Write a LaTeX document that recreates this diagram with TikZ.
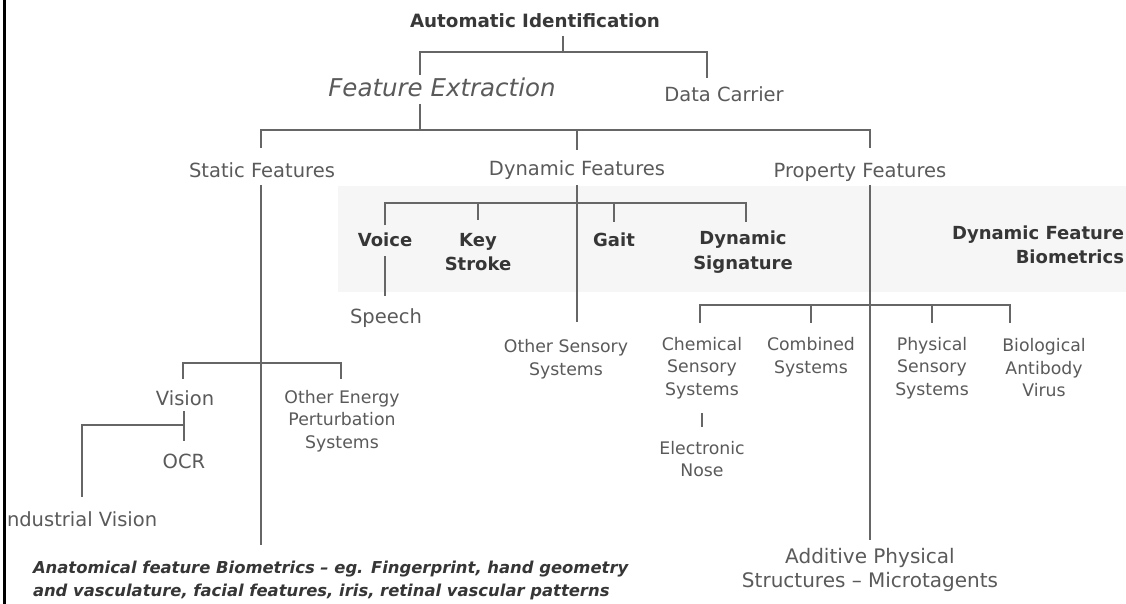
\documentclass[tikz,border=0pt]{standalone}
\usepackage{fontspec}
\setmainfont{DejaVu Sans}
\definecolor{txt}{HTML}{5A5A5A}
\definecolor{dark}{HTML}{363636}
\definecolor{ln}{HTML}{666666}
\definecolor{haze}{HTML}{F6F6F6}
\begin{document}
\begin{tikzpicture}[x=1pt,y=-1pt,
  every node/.style={inner sep=0pt, outer sep=0pt, align=center},
  ttl/.style={font=\bfseries\fontsize{18.3}{22}\selectfont, text=black!78},
  ital/.style={font=\itshape\fontsize{24.5}{28}\selectfont, text=txt},
  lbl/.style={font=\fontsize{19.5}{24}\selectfont, text=txt},
  sml/.style={font=\fontsize{17.3}{22.5}\selectfont, text=txt},
  bld/.style={font=\bfseries\fontsize{18}{24.5}\selectfont, text=dark},
  note/.style={font=\bfseries\itshape\fontsize{16.4}{23}\selectfont, text=dark, align=left},
  link/.style={draw=ln, line width=2pt}]
\useasboundingbox (0,0) rectangle (1126,604);
\fill[white] (0,0) rectangle (1126,604);
% faint tint behind the dynamic-feature band
\fill[haze] (338,186) rectangle (1126,292);
% left frame rule
\draw[line width=3pt, black] (4.5,0) -- (4.5,604);

% ---------- labels ----------
\node[ttl]  (auto)   at (535,21)  {Automatic Identification};
\node[ital] (fe)     at (442,87)  {Feature Extraction};
\node[lbl]  (dc)     at (724,94)  {Data Carrier};
\node[lbl]  (sf)     at (262,170) {Static Features};
\node[lbl]  (df)     at (577,170) {Dynamic Features};
\node[lbl]  (pf)     at (860,172) {Property Features};

\node[bld]  (voice)  at (385,240) {Voice};
\node[bld]  (key)    at (478,252) {Key\\Stroke};
\node[bld]  (gait)   at (614,240) {Gait};
\node[bld]  (dsig)   at (743,252) {Dynamic\\Signature};
\node[bld, anchor=east, align=right] (dfb) at (1124,245) {Dynamic Feature\\Biometrics};
\node[lbl]  (speech) at (386,318) {Speech};
\node[sml]  (oss)    at (566,359) {Other Sensory\\Systems};

\node[lbl]  (vis)    at (185,398) {Vision};
\node[sml]  (oe)     at (342,421) {Other Energy\\Perturbation\\Systems};
\node[lbl]  (ocr)    at (184,461) {OCR};
\node[lbl, anchor=west] (ind) at (7,519) {ndustrial Vision};

\node[sml]  (chem)   at (702,368) {Chemical\\Sensory\\Systems};
\node[sml]  (comb)   at (811,357) {Combined\\Systems};
\node[sml]  (phys)   at (932,368) {Physical\\Sensory\\Systems};
\node[sml]  (bio)    at (1044,368) {Biological\\Antibody\\Virus};
\node[sml]  (enose)  at (702,459) {Electronic\\Nose};
\node[font=\fontsize{20}{24}\selectfont, text=txt] (add) at (870,570) {Additive Physical\\Structures -- Microtagents};
\node[note, anchor=west] (anat) at (33,580) {Anatomical feature Biometrics -- eg. Fingerprint, hand geometry\\and vasculature, facial features, iris, retinal vascular patterns};

% ---------- junctions ----------
\coordinate (a0) at (563,36);  \coordinate (a1) at (563,52);
\coordinate (a2) at (420,52);  \coordinate (a3) at (707,52);
\coordinate (a4) at (420,75);  \coordinate (a5) at (707,78);
\coordinate (b0) at (420,104); \coordinate (b1) at (420,130);
\coordinate (b2) at (261,130); \coordinate (b3) at (870,130); \coordinate (b4) at (577,130);
\coordinate (b5) at (261,148); \coordinate (b6) at (577,150); \coordinate (b7) at (870,148);

\coordinate (s0) at (261,185); \coordinate (s1) at (261,363); \coordinate (s2) at (261,545);
\coordinate (s3) at (183,363); \coordinate (s4) at (341,363);
\coordinate (s5) at (183,379); \coordinate (s6) at (341,379);
\coordinate (v0) at (184,411); \coordinate (v1) at (184,425); \coordinate (v2) at (184,441);
\coordinate (v3) at (82,425);  \coordinate (v4) at (82,497);

\coordinate (d0) at (577,185); \coordinate (d1) at (577,203); \coordinate (d2) at (577,322);
\coordinate (d3) at (385,203); \coordinate (d4) at (746,203);
\coordinate (d5) at (385,225); \coordinate (d6) at (478,203); \coordinate (d7) at (478,220);
\coordinate (d8) at (614,203); \coordinate (d9) at (614,222); \coordinate (d10) at (746,222);
\coordinate (e0) at (385,256); \coordinate (e1) at (385,296);

\coordinate (p0) at (870,185); \coordinate (p1) at (870,305); \coordinate (p2) at (870,540);
\coordinate (p3) at (700,305); \coordinate (p4) at (1010,305);
\coordinate (p5) at (700,323); \coordinate (p6) at (811,305); \coordinate (p7) at (811,323);
\coordinate (p8) at (932,305); \coordinate (p9) at (932,323); \coordinate (p10) at (1010,323);
\coordinate (c0) at (702,413); \coordinate (c1) at (702,427);

% ---------- connectors ----------
\draw[link] (a0) -- (a1);
\draw[link] (a4) -- (a2) -- (a3) -- (a5);
\draw[link] (b0) -- (b1);
\draw[link] (b5) -- (b2) -- (b3) -- (b7);
\draw[link] (b4) -- (b6);

\draw[link] (s0) -- (s2);
\draw[link] (s5) -- (s3) -- (s4) -- (s6);
\draw[link] (v0) -- (v2);
\draw[link] (v1) -- (v3) -- (v4);

\draw[link] (d0) -- (d2);
\draw[link] (d5) -- (d3) -- (d4) -- (d10);
\draw[link] (d6) -- (d7);
\draw[link] (d8) -- (d9);
\draw[link] (e0) -- (e1);

\draw[link] (p0) -- (p2);
\draw[link] (p5) -- (p3) -- (p4) -- (p10);
\draw[link] (p6) -- (p7);
\draw[link] (p8) -- (p9);
\draw[link] (c0) -- (c1);
\end{tikzpicture}
\end{document}
